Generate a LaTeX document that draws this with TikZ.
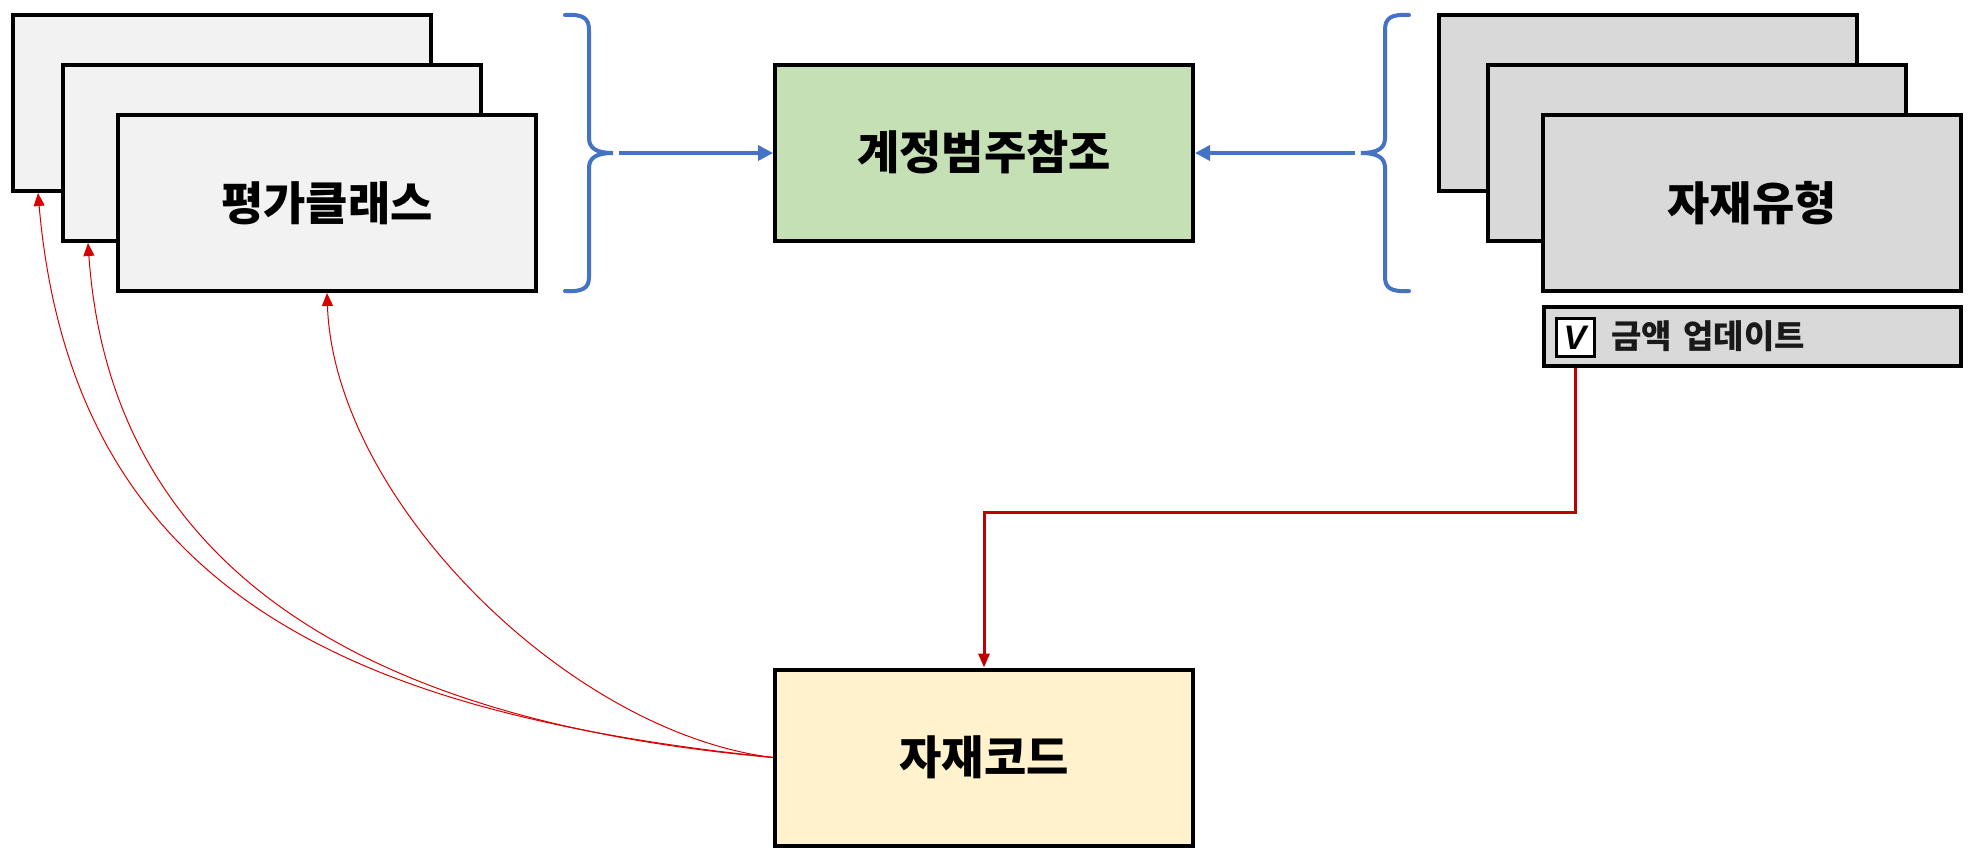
\documentclass[tikz,border=0pt]{standalone}
\usepackage{fontspec}
\setmainfont{Noto Sans CJK KR}
\newfontfamily\latinf{Liberation Sans}
\usetikzlibrary{arrows.meta}
\definecolor{bluec}{HTML}{4472C4}
\definecolor{redc}{HTML}{C00000}
\definecolor{redt}{HTML}{D80000}
\definecolor{lgray}{HTML}{F2F2F2}
\definecolor{dgray}{HTML}{D9D9D9}
\definecolor{greenc}{HTML}{C5E0B4}
\definecolor{yellowc}{HTML}{FFF2CC}
\begin{document}
\begin{tikzpicture}[x=1pt,y=-1pt,
  bigbox/.style={draw=black, line width=4pt, minimum width=418pt, minimum height=176pt, inner sep=0pt,
    font=\fontsize{46}{52}\selectfont\bfseries},
  bracestyle/.style={draw=bluec, line width=4pt, line cap=round},
  bluearrow/.style={draw=bluec, line width=3.5pt, -{Triangle[length=15pt,width=15pt]}},
  redelbow/.style={draw=redc, line width=3pt, -{Triangle[length=14pt,width=11pt]}},
  redcurve/.style={draw=redt, line width=1pt, -{Triangle[length=13pt,width=11pt]}}
]
\useasboundingbox (0,0) rectangle (1968,855);

% left stack
\node[bigbox, fill=lgray] (L1) at (222,103) {};
\node[bigbox, fill=lgray] (L2) at (272,153) {};
\node[bigbox, fill=lgray] (L3) at (327,203) {평가클래스};

% right stack
\node[bigbox, fill=dgray] (R1) at (1648,103) {};
\node[bigbox, fill=dgray] (R2) at (1697,153) {};
\node[bigbox, fill=dgray] (R3) at (1752,203) {자재유형};

% checkbox bar
\node[draw=black, line width=4pt, fill=dgray, minimum width=417pt, minimum height=59pt, inner sep=0pt] (bar) at (1752.5,336.5) {};
\node[draw=black, line width=3pt, fill=white, minimum width=38pt, minimum height=38pt, inner sep=0pt,
  font=\latinf\fontsize{34}{34}\selectfont\bfseries\itshape] (cb) at (1575,337.5) {V};
\node[anchor=west, inner sep=0pt, font=\fontsize{33}{36}\selectfont\bfseries, text=black!90] (amt) at (1611,336) {금액\hspace{0.35em}업데이트};

% center boxes
\node[bigbox, fill=greenc] (G) at (984,152.5) {계정범주참조};
\node[bigbox, fill=yellowc] (Y) at (984,757.5) {자재코드};

% left brace
\draw[bracestyle] (565,15) .. controls (583,14) and (589,18) .. (589,30) -- (589,138)
  .. controls (589,148) and (596,153) .. (613,153)
  .. controls (596,153) and (589,158) .. (589,168) -- (589,277)
  .. controls (589,288) and (583,292) .. (565,291);
\coordinate (bL) at (613,153);
\draw[bluearrow, shorten <=6pt] (bL) -- (bL -| G.west);

% right brace
\draw[bracestyle] (1409,15) .. controls (1391,14) and (1385,18) .. (1385,30) -- (1385,138)
  .. controls (1385,148) and (1378,153) .. (1361,153)
  .. controls (1378,153) and (1385,158) .. (1385,168) -- (1385,277)
  .. controls (1385,288) and (1391,292) .. (1409,291);
\coordinate (bR) at (1361,153);
\draw[bluearrow, shorten <=6pt] (bR) -- (bR -| G.east);

% red elbow
\coordinate (turn) at (984,512);
\draw[redelbow] (cb |- bar.south) -- (cb |- turn) -- (turn) -- (Y.north);

% red curves
\draw[redcurve] (Y.west) to[out=174, in=-85, looseness=1.13] ([xshift=-184pt]L1.south);
\draw[redcurve] (Y.west) to[out=175, in=-86, looseness=1.07] ([xshift=-184pt]L2.south);
\draw[redcurve] (Y.west) to[out=173, in=-88, looseness=0.82] (L3.south);
\end{tikzpicture}
\end{document}
